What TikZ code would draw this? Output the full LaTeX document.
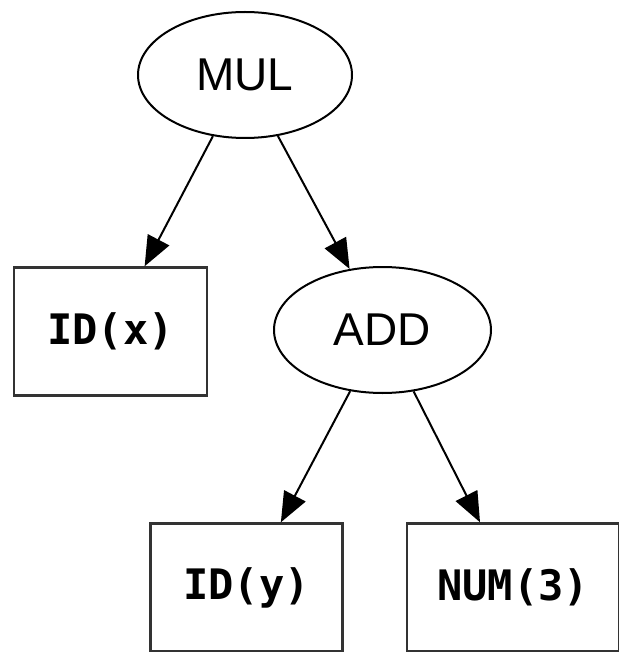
\documentclass[tikz,border=0pt]{standalone}
\usepackage{fontspec}
\setmainfont{Liberation Sans}
\newfontfamily\monob{DejaVu Sans Mono}
\usetikzlibrary{shapes.geometric,arrows.meta}
\begin{document}
\begin{tikzpicture}[x=1pt,y=-1pt,
  opnode/.style={ellipse,draw=black,line width=2pt,inner sep=0pt,minimum width=214pt,minimum height=126pt,font=\fontsize{46}{50}\selectfont},
  leafnode/.style={rectangle,draw=black!80,line width=2.4pt,inner sep=0pt,minimum width=193pt,minimum height=128pt,font=\monob\bfseries\fontsize{42}{46}\selectfont},
  edge/.style={line width=2pt,-{Triangle[length=30pt,width=24pt]}}]
\useasboundingbox (0,0) rectangle (618,652);
\node[opnode] (mul) at (245,75) {MUL};
\node[leafnode] (idx) at (110.5,331.5) {ID(x)};
\node[opnode,minimum width=217pt] (add) at (382.5,330) {ADD};
\node[leafnode,minimum width=192pt] (idy) at (246.5,587.5) {ID(y)};
\node[leafnode,minimum width=212pt] (num) at (513,587.5) {NUM(3)};
\draw[edge] (mul) -- (idx);
\draw[edge] (mul) -- (add);
\draw[edge] (add) -- (idy);
\draw[edge] (add) -- (num);
\end{tikzpicture}
\end{document}
